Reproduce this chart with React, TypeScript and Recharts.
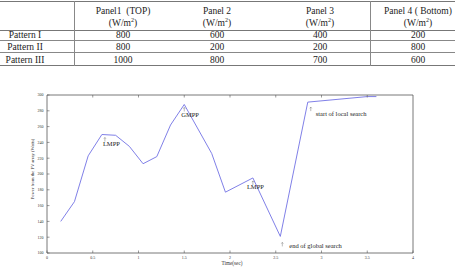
import React from 'react';
import { LineChart, Line, XAxis, YAxis, ReferenceDot } from 'recharts';

// ---- table data ----
const panelNames = ['Panel1  (TOP)', 'Panel 2', 'Panel 3', 'Panel 4 ( Bottom)'];
const patternNames = ['Pattern I', 'Pattern II', 'Pattern III'];
const patternI = [800, 600, 400, 200];
const patternII = [800, 200, 200, 800];
const patternIII = [1000, 800, 700, 600];
const tableRows = [patternI, patternII, patternIII];

// ---- chart data ----
const timeSec = [0.15, 0.3, 0.45, 0.6, 0.75, 0.9, 1.05, 1.2, 1.35, 1.5, 1.8, 1.95, 2.25, 2.55, 2.85, 3.5, 3.6];
const powerW = [140, 165, 223, 250, 249, 235, 213, 222, 262, 288, 226, 177, 195, 121, 291, 298, 298];
const xTicks = [0, 0.5, 1, 1.5, 2, 2.5, 3, 3.5, 4];
const yTicks = [100, 120, 140, 160, 180, 200, 220, 240, 260, 280, 300];

// annotations (anchored on data points)
const annText = ['LMPP', 'GMPP', 'LMPP', 'end of global search', 'start of local search'];
const annX = [0.6, 1.5, 2.25, 2.55, 2.85];
const annY = [250, 288, 195, 121, 291];
// layout offsets (pixels) for arrow and text
const annLayout = [
  { ax: 3, ay: 3, tx: 1, ty: 11 },
  { ax: 0, ay: 3, tx: -3, ty: 13 },
  { ax: 0, ay: 3, tx: -6, ty: 11.5 },
  { ax: 2, ay: 6, tx: 9, ty: 11.5 },
  { ax: 3, ay: 5, tx: 8, ty: 13.5 },
];

const data = timeSec.map((t, i) => ({ t, p: powerW[i] }));

const SERIF = 'Liberation Serif, Times New Roman, serif';
const AXIS = '#555';
const TXT = '#333';

const colCenters = [25, 123, 217, 320, 418];
const rowCenters = [34.5, 46.5, 59.5];

const BottomTick = (props: any) => {
  const { x, y, payload } = props;
  return (
    <g>
      <line x1={x} y1={y} x2={x} y2={y - 2.5} stroke={AXIS} strokeWidth={0.6} />
      <text x={x} y={y + 5.5} textAnchor="middle" fontSize={4} fill={TXT} fontFamily={SERIF}>
        {String(payload.value)}
      </text>
    </g>
  );
};
const TopTick = (props: any) => {
  const { x, y, payload } = props;
  if (payload.value === 0 || payload.value === 4) return <g />;
  return <line x1={x} y1={y} x2={x} y2={y + 2.5} stroke={AXIS} strokeWidth={0.6} />;
};
const LeftTick = (props: any) => {
  const { x, y, payload } = props;
  return (
    <g>
      <line x1={x} y1={y} x2={x + 2.5} y2={y} stroke={AXIS} strokeWidth={0.6} />
      <text x={x - 3.5} y={y + 1.4} textAnchor="end" fontSize={4} fill={TXT} fontFamily={SERIF}>
        {String(payload.value)}
      </text>
    </g>
  );
};
const RightTick = (props: any) => {
  const { x, y, payload } = props;
  if (payload.value === 100 || payload.value === 300) return <g />;
  return <line x1={x} y1={y} x2={x - 2.5} y2={y} stroke={AXIS} strokeWidth={0.6} />;
};

const makeAnnShape = (i: number) => (props: any) => {
  const { cx, cy } = props;
  const L = annLayout[i];
  const ax = cx + L.ax;
  const ay = cy + L.ay;
  return (
    <g>
      <line x1={ax} y1={ay} x2={ax} y2={ay + 4} stroke="#777" strokeWidth={0.5} />
      <path d={`M${ax - 1},${ay + 1.2} L${ax},${ay} L${ax + 1},${ay + 1.2}`} stroke="#777" strokeWidth={0.5} fill="none" />
      <text x={cx + L.tx} y={cy + L.ty} fontSize={6.5} fill="#222" fontFamily={SERIF}>
        {annText[i]}
      </text>
    </g>
  );
};

export default function App() {
  return (
    <div style={{ position: 'absolute', left: 0, top: 0, width: 455, height: 273, background: '#fff', overflow: 'hidden', fontFamily: SERIF }}>
      {/* table lines */}
      <div style={{ position: 'absolute', left: 0, top: 1, width: 455, height: 1, background: '#777' }} />
      <div style={{ position: 'absolute', left: 0, top: 30, width: 455, height: 1, background: '#777' }} />
      <div style={{ position: 'absolute', left: 0, top: 40, width: 455, height: 1, background: '#888' }} />
      <div style={{ position: 'absolute', left: 0, top: 52, width: 455, height: 1, background: '#888' }} />
      <div style={{ position: 'absolute', left: 0, top: 65, width: 455, height: 1, background: '#777' }} />
      <div style={{ position: 'absolute', left: 74, top: 1, width: 1, height: 65, background: '#888' }} />
      <div style={{ position: 'absolute', left: 370, top: 1, width: 1, height: 65, background: '#888' }} />
      {panelNames.map((n, j) => (
        <div key={'h' + j} style={{ position: 'absolute', left: colCenters[j + 1] - 50, width: 100, top: 5, textAlign: 'center', fontSize: 9.5, lineHeight: '12px', color: '#222', whiteSpace: 'pre' }}>
          {n}
          <br />
          (W/m<sup style={{ fontSize: 6, lineHeight: 0 }}>2</sup>)
        </div>
      ))}
      {patternNames.map((n, i) => (
        <React.Fragment key={'r' + i}>
          <div style={{ position: 'absolute', left: colCenters[0] - 50, width: 100, top: rowCenters[i] - 6, textAlign: 'center', fontSize: 9.5, lineHeight: '12px', color: '#222' }}>{n}</div>
          {tableRows[i].map((v, j) => (
            <div key={j} style={{ position: 'absolute', left: colCenters[j + 1] - 50, width: 100, top: rowCenters[i] - 6, textAlign: 'center', fontSize: 9.5, lineHeight: '12px', color: '#222' }}>{v}</div>
          ))}
        </React.Fragment>
      ))}

      {/* chart */}
      <div style={{ position: 'absolute', left: 0, top: 0 }}>
        <LineChart width={455} height={273} data={data} margin={{ top: 90, right: 37, bottom: 10, left: 37 }}>
          <XAxis dataKey="t" type="number" domain={[0, 4]} ticks={xTicks} interval={0} height={10} tickSize={0} tickMargin={0} tickLine={false} axisLine={{ stroke: AXIS, strokeWidth: 0.8 }} tick={BottomTick} />
          <XAxis xAxisId="top" dataKey="t" orientation="top" type="number" domain={[0, 4]} ticks={xTicks} interval={0} height={5} tickSize={0} tickMargin={0} tickLine={false} axisLine={{ stroke: AXIS, strokeWidth: 0.8 }} tick={TopTick} />
          <YAxis type="number" domain={[100, 300]} ticks={yTicks} interval={0} width={10} tickSize={0} tickMargin={0} tickLine={false} axisLine={{ stroke: AXIS, strokeWidth: 0.8 }} tick={LeftTick} />
          <YAxis yAxisId="right" orientation="right" type="number" domain={[100, 300]} ticks={yTicks} interval={0} width={5} tickSize={0} tickMargin={0} tickLine={false} axisLine={{ stroke: AXIS, strokeWidth: 0.8 }} tick={RightTick} />
          <Line type="linear" dataKey="p" stroke="#7272e4" strokeWidth={0.9} dot={false} isAnimationActive={false} />
          {annText.map((_, i) => (
            <ReferenceDot key={i} x={annX[i]} y={annY[i]} r={0} shape={makeAnnShape(i)} />
          ))}
        </LineChart>
      </div>
      <div style={{ position: 'absolute', left: 232, top: 263, transform: 'translate(-50%, -50%)', fontSize: 5.2, color: TXT, whiteSpace: 'nowrap' }}>Time(sec)</div>
      <div style={{ position: 'absolute', left: 32, top: 169, transform: 'translate(-50%, -50%) rotate(-90deg)', fontSize: 4.6, color: TXT, whiteSpace: 'nowrap' }}>Power from the PV array (Watts)</div>
    </div>
  );
}
